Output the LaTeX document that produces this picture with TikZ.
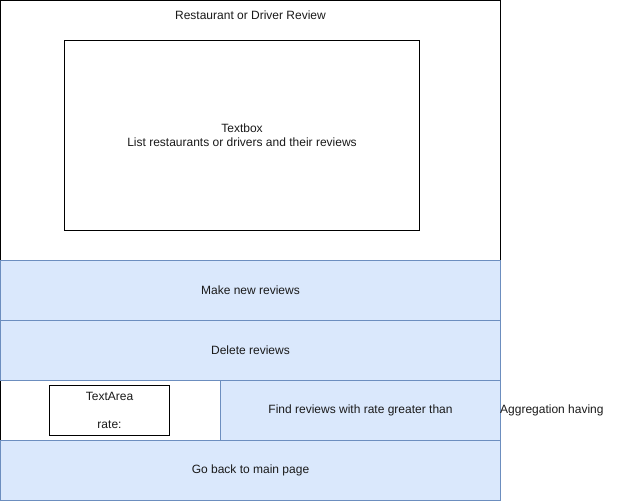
\documentclass[tikz,border=0pt]{standalone}
\usepackage{fontspec}
\setmainfont{Liberation Sans}
\definecolor{bfill}{HTML}{DAE8FC}
\definecolor{bline}{HTML}{6C8EBF}
\definecolor{txt}{HTML}{1A1A1A}
\begin{document}
\begin{tikzpicture}[x=1pt,y=-1pt,
  every node/.style={font=\fontsize{12}{14}\selectfont,text=txt,inner sep=0pt},
  wbox/.style={draw=black,fill=white,line width=1pt},
  bbox/.style={draw=bline,fill=bfill,line width=1pt}]
\useasboundingbox (0,0) rectangle (617,502);
% top white region
\draw[wbox] (0.5,0.5) rectangle (500.5,260.5);
\node (title) at (250.5,15) {Restaurant or Driver Review};
\draw[wbox] (64.5,40.5) rectangle (419.5,230.5);
\node[align=center] (tb) at (242,135) {Textbox\\List restaurants or drivers and their reviews};
% white left cell
\draw[wbox] (0.5,380.5) rectangle (220.5,440.5);
% blue rows
\draw[bbox] (0.5,260.5) rectangle (500.5,320.5);
\node (make) at (250.5,290) {Make new reviews};
\draw[bbox] (0.5,320.5) rectangle (500.5,380.5);
\node (del) at (250.5,350) {Delete reviews};
\draw[bbox] (220.5,380.5) rectangle (500.5,440.5);
\node (find) at (360.5,410) {Find reviews with rate greater than};
\draw[bbox] (0.5,440.5) rectangle (500.5,500.5);
\node (back) at (250.5,470) {Go back to main page};
% text area
\draw[wbox] (49.5,385.5) rectangle (169.5,435.5);
\node (ta) at (109.5,396) {TextArea};
\node (rate) at (109.5,425) {rate:};
\node[anchor=west] (agg) at (500,410) {Aggregation having};
\end{tikzpicture}
\end{document}
